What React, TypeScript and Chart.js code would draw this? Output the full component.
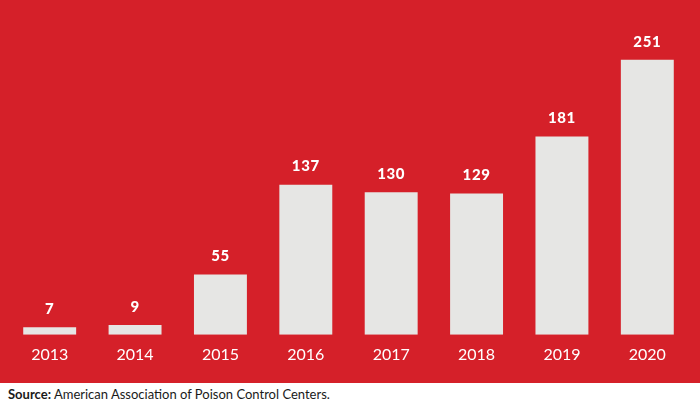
import React, { useEffect, useRef } from "react";
import { Chart, registerables } from "chart.js";

Chart.register(...registerables);

const years = ["2013", "2014", "2015", "2016", "2017", "2018", "2019", "2020"];
const cases = [7, 9, 55, 137, 130, 129, 181, 251];
const sourceLabel = "Source:";
const sourceText = " American Association of Poison Control Centers.";

const RED = "#d52029";
const BAR = "#e6e6e4";
const FONT = "Lato, 'Open Sans', sans-serif";

const valueLabels = {
  id: "valueLabels",
  afterDatasetsDraw(chart: any) {
    const ctx = chart.ctx;
    const meta = chart.getDatasetMeta(0);
    ctx.save();
    ctx.fillStyle = "#ffffff";
    ctx.font = `900 15px ${FONT}`;
    ctx.textAlign = "center";
    ctx.textBaseline = "middle";
    try {
      (ctx as any).letterSpacing = "0.6px";
    } catch (e) {}
    meta.data.forEach((bar: any, i: number) => {
      ctx.fillText(String(cases[i]), bar.x, bar.y - 18);
    });
    ctx.restore();
  },
};

export default function App() {
  const ref = useRef<HTMLCanvasElement | null>(null);
  useEffect(() => {
    if (!ref.current) return;
    const chart = new Chart(ref.current, {
      type: "bar",
      data: {
        labels: years,
        datasets: [
          {
            data: cases,
            backgroundColor: BAR,
            borderWidth: 0,
            barPercentage: 0.62,
            categoryPercentage: 1,
          },
        ],
      },
      options: {
        animation: false,
        responsive: false,
        maintainAspectRatio: false,
        layout: { padding: { left: 7, right: 10, top: 6, bottom: 9 } },
        plugins: { legend: { display: false }, tooltip: { enabled: false } },
        scales: {
          x: {
            grid: { display: false, drawTicks: false },
            border: { display: false },
            ticks: { color: "#ffffff", font: { family: FONT, size: 16 }, padding: 10 },
          },
          y: {
            display: false,
            min: 0,
            max: 300,
          },
        },
      },
      plugins: [valueLabels],
    });
    return () => chart.destroy();
  }, []);

  return (
    <div style={{ position: "absolute", left: 0, top: 0, width: 700, height: 404, background: "#ffffff" }}>
      <div style={{ width: 700, height: 383, background: RED }}>
        <canvas ref={ref} width={700} height={383} style={{ display: "block" }} />
      </div>
      <div
        style={{
          height: 21,
          lineHeight: "21px",
          paddingLeft: 8,
          paddingTop: 1,
          fontFamily: FONT,
          fontSize: 13,
          color: "#1a1a1a",
        }}
      >
        <b>{sourceLabel}</b>
        {sourceText}
      </div>
    </div>
  );
}
